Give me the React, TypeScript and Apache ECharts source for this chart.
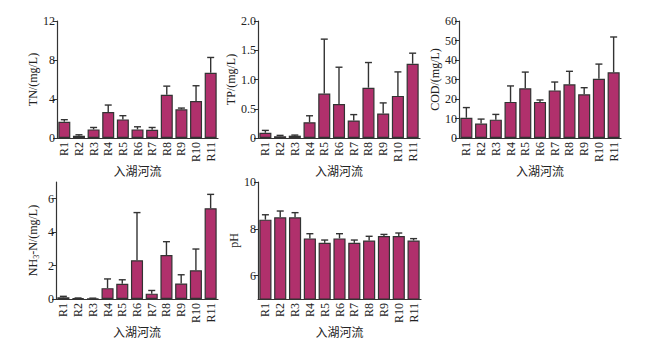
import React, { useEffect, useRef } from "react";
import * as echarts from "echarts";

const categories = ["R1", "R2", "R3", "R4", "R5", "R6", "R7", "R8", "R9", "R10", "R11"];

const tnMean = [1.67, 0.24, 0.88, 2.66, 1.91, 0.88, 0.85, 4.44, 2.94, 3.8, 6.69];
const tnUpper = [1.88, 0.33, 1.08, 3.38, 2.29, 1.15, 1.08, 5.32, 3.07, 5.36, 8.26];

const tpMean = [0.09, 0.03, 0.04, 0.27, 0.76, 0.58, 0.3, 0.86, 0.42, 0.72, 1.27];
const tpUpper = [0.13, 0.045, 0.05, 0.38, 1.69, 1.21, 0.4, 1.29, 0.6, 1.13, 1.45];

const codMean = [10.4, 7.4, 9.4, 18.5, 25.5, 18.5, 24.4, 27.5, 22.4, 30.4, 33.7];
const codUpper = [15.6, 9.7, 12.1, 26.7, 33.8, 19.5, 28.7, 34.2, 25.8, 37.9, 51.8];

const nhMean = [0.1, 0.04, 0.03, 0.65, 0.91, 2.32, 0.32, 2.63, 0.93, 1.72, 5.43];
const nhUpper = [0.16, 0.06, 0.05, 1.2, 1.15, 5.17, 0.51, 3.43, 1.45, 2.99, 6.26];

const phMean = [8.39, 8.49, 8.49, 7.59, 7.4, 7.59, 7.4, 7.5, 7.69, 7.69, 7.5];
const phUpper = [8.6, 8.76, 8.69, 7.79, 7.52, 7.79, 7.52, 7.68, 7.76, 7.82, 7.58];

const xName = "入湖河流";

const FONT = "'Liberation Serif', 'Times New Roman', 'Noto Sans CJK SC', serif";
const AXIS_COLOR = "#333";
const BAR_COLOR = "#b0306c";

type Panel = {
  mean: number[];
  upper: number[];
  name: string;
  min: number;
  max: number;
  ticks: number[];
  fmt: (v: number) => string;
  left: number;
  top: number;
  width: number;
  nameGap: number;
  xNameGap: number;
};

const panels: Panel[] = [
  { mean: tnMean, upper: tnUpper, name: "TN/(mg/L)", min: 0, max: 12, ticks: [0, 4, 8, 12], fmt: (v) => String(v), left: 57, top: 21, width: 161, nameGap: 18, xNameGap: 22 },
  { mean: tpMean, upper: tpUpper, name: "TP/(mg/L)", min: 0, max: 2, ticks: [0, 0.5, 1, 1.5, 2], fmt: (v) => (v === 0 ? "0" : v.toFixed(1)), left: 258, top: 21, width: 162, nameGap: 21, xNameGap: 22 },
  { mean: codMean, upper: codUpper, name: "COD/(mg/L)", min: 0, max: 60, ticks: [0, 10, 20, 30, 40, 50, 60], fmt: (v) => String(v), left: 459, top: 21, width: 162, nameGap: 17, xNameGap: 22 },
  { mean: nhMean, upper: nhUpper, name: "NH{sub|3}-N/(mg/L)", min: 0, max: 7, ticks: [0, 2, 4, 6], fmt: (v) => String(v), left: 56, top: 182, width: 162, nameGap: 16, xNameGap: 23 },
  { mean: phMean, upper: phUpper, name: "pH", min: 5, max: 10, ticks: [6, 8, 10], fmt: (v) => String(v), left: 258, top: 182, width: 163, nameGap: 16, xNameGap: 23 },
];

export default function App() {
  const ref = useRef<HTMLDivElement>(null);
  useEffect(() => {
    if (!ref.current) return;
    const chart = echarts.init(ref.current, undefined, { renderer: "svg" });
    const grids: any[] = [];
    const xAxes: any[] = [];
    const yAxes: any[] = [];
    const series: any[] = [];
    panels.forEach((p, i) => {
      grids.push({ left: p.left, top: p.top, width: p.width, height: 117, containLabel: false });
      xAxes.push({
        type: "category",
        gridIndex: i,
        data: categories,
        name: xName,
        nameLocation: "middle",
        nameGap: p.xNameGap,
        nameTextStyle: { fontFamily: FONT, fontSize: 12, color: "#222", verticalAlign: "top" },
        axisLine: { lineStyle: { color: AXIS_COLOR, width: 1.2 } },
        axisTick: { show: false },
        axisLabel: { rotate: 90, interval: 0, margin: 4, fontFamily: FONT, fontSize: 12, color: "#222" },
      });
      yAxes.push({
        type: "value",
        gridIndex: i,
        min: p.min,
        max: p.max,
        name: p.name,
        nameLocation: "middle",
        nameGap: p.nameGap,
        nameTextStyle: {
          fontFamily: FONT,
          fontSize: 12,
          color: "#222",
          rich: { sub: { fontFamily: FONT, fontSize: 8, padding: [7, 0, 0, 0], color: "#222" } },
        },
        splitLine: { show: false },
        axisLine: { show: true, lineStyle: { color: AXIS_COLOR, width: 1.2 } },
        axisTick: { show: true, length: 4, customValues: p.ticks, lineStyle: { color: AXIS_COLOR } },
        axisLabel: { customValues: p.ticks, formatter: p.fmt, margin: 2, fontFamily: FONT, fontSize: 12, color: "#222" },
      });
      series.push({
        type: "bar",
        xAxisIndex: i,
        yAxisIndex: i,
        data: p.mean,
        barCategoryGap: "18%",
        itemStyle: { color: BAR_COLOR, borderColor: "#333", borderWidth: 1.2 },
        z: 2,
      });
      series.push({
        type: "custom",
        xAxisIndex: i,
        yAxisIndex: i,
        data: p.mean.map((m, k) => [k, m, p.upper[k]]),
        z: 3,
        renderItem: (_params: any, api: any) => {
          const base = api.coord([api.value(0), api.value(1)]);
          const top = api.coord([api.value(0), api.value(2)]);
          const style = { stroke: "#333", lineWidth: 1.4 };
          return {
            type: "group",
            children: [
              { type: "line", shape: { x1: base[0], y1: base[1], x2: top[0], y2: top[1] }, style },
              { type: "line", shape: { x1: top[0] - 3.5, y1: top[1], x2: top[0] + 3.5, y2: top[1] }, style },
            ],
          };
        },
      });
    });
    chart.setOption({
      animation: false,
      backgroundColor: "#fff",
      grid: grids,
      xAxis: xAxes,
      yAxis: yAxes,
      series,
    });
    return () => chart.dispose();
  }, []);
  return <div ref={ref} style={{ position: "fixed", left: 0, top: 0, width: 651, height: 341 }} />;
}
